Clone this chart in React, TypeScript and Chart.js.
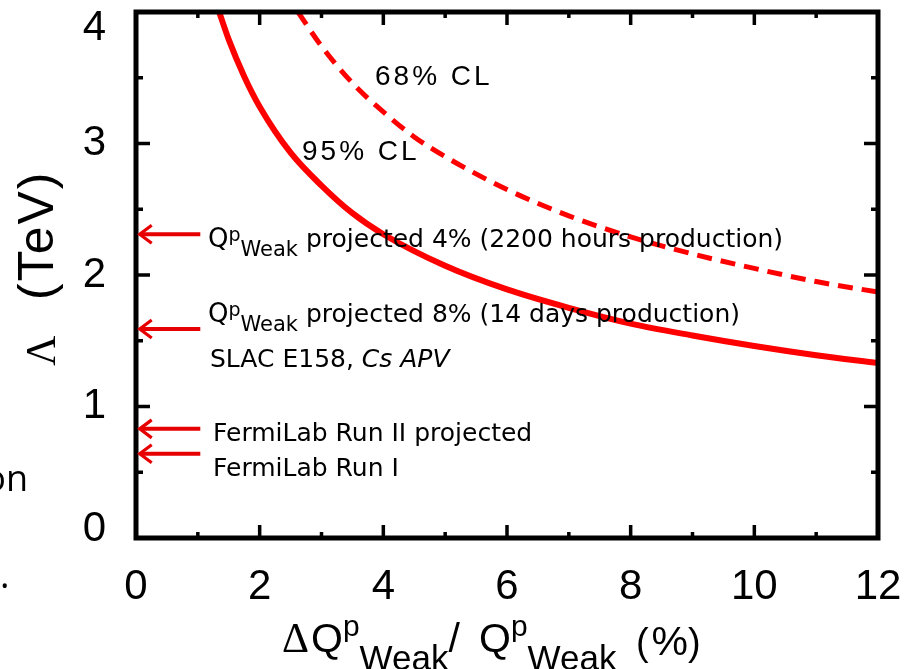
import React, { useEffect, useRef } from 'react';
import { Chart, registerables } from 'chart.js';

Chart.register(...registerables);

// ---- data ----
const solidX = [1.345, 1.5, 1.75, 2, 2.5, 3, 3.5, 4, 5, 6, 7, 8, 9, 10, 11, 12];
const solidY = [4.0, 3.79, 3.51, 3.28, 2.93, 2.68, 2.47, 2.31, 2.07, 1.89, 1.75, 1.63, 1.54, 1.46, 1.39, 1.33];
const dashedX = [2.62, 3, 3.5, 4, 4.5, 5, 6, 7, 8, 9, 10, 11, 12];
const dashedY = [4.0, 3.74, 3.46, 3.24, 3.05, 2.9, 2.65, 2.45, 2.29, 2.16, 2.05, 1.95, 1.87];
const xRange = [0, 12];
const yRange = [0, 4];
const xStep = 2;
const yStep = 1;
const arrowLevels = [2.31, 1.59, 0.83, 0.64];
const curveLabels = ['68% CL', '95% CL'];
const noteTexts = [
  'projected 4% (2200 hours production)',
  'projected 8% (14 days production)',
  'SLAC E158, ',
  'Cs APV',
  'FermiLab Run II projected',
  'FermiLab Run I',
];

const SANS = '"Liberation Sans", Arial, sans-serif';
const NOTE = '"Comic Sans MS", "DejaVu Sans", sans-serif';
const RED = '#ff0000';
const ARROW_RED = '#e60000';

type Part = { t: string; font: string; dy?: number };
function drawRich(ctx: CanvasRenderingContext2D, x: number, y: number, parts: Part[]) {
  let cx = x;
  for (const p of parts) {
    ctx.font = p.font;
    ctx.fillText(p.t, cx, y + (p.dy || 0));
    cx += ctx.measureText(p.t).width;
  }
  return cx;
}

const framePlugin = {
  id: 'frame',
  afterDraw(chart: any) {
    const ctx: CanvasRenderingContext2D = chart.ctx;
    const { left, right, top, bottom } = chart.chartArea;
    const xs = chart.scales.x;
    const ys = chart.scales.y;
    ctx.save();
    ctx.strokeStyle = '#000';
    ctx.lineWidth = 3.5;
    for (let v = xRange[0]; v <= xRange[1]; v += xStep / 2) {
      const px = xs.getPixelForValue(v);
      const major = Math.abs(v % xStep) < 1e-9;
      const len = major ? 13 : 6;
      ctx.beginPath();
      ctx.moveTo(px, bottom);
      ctx.lineTo(px, bottom - len);
      ctx.moveTo(px, top);
      ctx.lineTo(px, top + len);
      ctx.stroke();
    }
    for (let v = yRange[0]; v <= yRange[1] + 1e-9; v += yStep / 2) {
      const py = ys.getPixelForValue(v);
      const major = Math.abs(v % yStep) < 1e-9;
      const len = major ? 14 : 7;
      ctx.beginPath();
      ctx.moveTo(left, py);
      ctx.lineTo(left + len, py);
      ctx.moveTo(right, py);
      ctx.lineTo(right - len, py);
      ctx.stroke();
    }
    ctx.lineWidth = 5;
    ctx.beginPath();
    ctx.rect(left, top, right - left, bottom - top);
    ctx.stroke();
    ctx.restore();
  },
};

const notesPlugin = {
  id: 'notes',
  afterDraw(chart: any) {
    const ctx: CanvasRenderingContext2D = chart.ctx;
    const xs = chart.scales.x;
    const ys = chart.scales.y;
    ctx.save();
    ctx.strokeStyle = ARROW_RED;
    ctx.lineCap = 'butt';
    ctx.lineJoin = 'miter';
    for (const lv of arrowLevels) {
      const py = ys.getPixelForValue(lv);
      const tip = xs.getPixelForValue(0.06);
      const tail = xs.getPixelForValue(1.04);
      ctx.lineWidth = 4;
      ctx.beginPath();
      ctx.moveTo(tail, py);
      ctx.lineTo(tip + 2, py);
      ctx.stroke();
      ctx.lineWidth = 3.2;
      ctx.beginPath();
      ctx.moveTo(tip + 12, py - 9);
      ctx.lineTo(tip, py);
      ctx.lineTo(tip + 12, py + 9);
      ctx.stroke();
    }
    ctx.fillStyle = '#000';
    ctx.textBaseline = 'alphabetic';
    ctx.textAlign = 'left';
    const base = `25px ${NOTE}`;
    const qParts = (rest: string): Part[] => [
      { t: 'Q', font: `26px ${NOTE}` },
      { t: 'p', font: `19px ${NOTE}`, dy: -6 },
      { t: 'Weak', font: `21px ${NOTE}`, dy: 9 },
      { t: ' ' + rest, font: base },
    ];
    drawRich(ctx, 208, 247, qParts(noteTexts[0]));
    drawRich(ctx, 208, 322, qParts(noteTexts[1]));
    drawRich(ctx, 210, 367, [
      { t: noteTexts[2], font: base },
      { t: noteTexts[3], font: `italic 25px ${NOTE}` },
    ]);
    ctx.font = base;
    ctx.fillText(noteTexts[4], 213, 441);
    ctx.fillText(noteTexts[5], 213, 476);

    ctx.font = `28px ${SANS}`;
    (ctx as any).letterSpacing = '3px';
    ctx.fillText(curveLabels[0], 375, 85);
    ctx.fillText(curveLabels[1], 302, 160);
    (ctx as any).letterSpacing = '0px';

    ctx.save();
    ctx.translate(55, 366);
    ctx.rotate(-Math.PI / 2);
    ctx.font = `42px "Liberation Serif", serif`;
    ctx.fillText('\u039B', 0, 0);
    ctx.font = `50px ${SANS}`;
    (ctx as any).letterSpacing = '2px';
    ctx.fillText('(TeV)', 66, -2);
    (ctx as any).letterSpacing = '0px';
    ctx.restore();

    ctx.font = `42px "Liberation Serif", serif`;
    ctx.fillText('\u0394', 282, 652);
    const big = `41px ${SANS}`;
    const sup = `30px ${SANS}`;
    const sub = `35px ${SANS}`;
    drawRich(ctx, 311, 652, [
      { t: 'Q', font: big },
      { t: 'p', font: sup, dy: -16 },
      { t: 'Weak', font: sub, dy: 18 },
      { t: '/', font: big },
    ]);
    drawRich(ctx, 479, 652, [
      { t: 'Q', font: big },
      { t: 'p', font: sup, dy: -16 },
      { t: 'Weak', font: sub, dy: 18 },
    ]);
    drawRich(ctx, 636, 655, [
      { t: '(', font: `38px ${SANS}` },
      { t: ' ', font: `10px ${SANS}` },
      { t: '%', font: big },
      { t: ')', font: `38px ${SANS}` },
    ]);

    ctx.font = `36px "Open Sans", sans-serif`;
    ctx.textAlign = 'right';
    ctx.fillText('on', 28, 491);
    ctx.textAlign = 'left';
    ctx.fillText('.', 0, 588);
    ctx.restore();
  },
};

const zeroPad = (s: any) => {
  s.paddingTop = 0;
  s.paddingBottom = 0;
  s.paddingLeft = 0;
  s.paddingRight = 0;
};

export default function App() {
  const ref = useRef<HTMLCanvasElement | null>(null);
  useEffect(() => {
    const canvas = ref.current;
    if (!canvas) return;
    const chart = new Chart(canvas, {
      type: 'line',
      data: {
        datasets: [
          {
            label: '95% CL',
            data: solidX.map((x, i) => ({ x, y: solidY[i] })),
            borderColor: RED,
            borderWidth: 6,
            pointRadius: 0,
            cubicInterpolationMode: 'monotone',
            fill: false,
          },
          {
            label: '68% CL',
            data: dashedX.map((x, i) => ({ x, y: dashedY[i] })),
            borderColor: RED,
            borderWidth: 5,
            borderDash: [15, 9],
            pointRadius: 0,
            cubicInterpolationMode: 'monotone',
            fill: false,
          },
        ],
      },
      options: {
        responsive: false,
        animation: false,
        devicePixelRatio: 1,
        layout: { padding: { top: 12, right: 29, left: 0, bottom: 0 } },
        scales: {
          x: {
            type: 'linear',
            min: xRange[0],
            max: xRange[1],
            grid: { display: false, drawTicks: false },
            border: { display: false },
            ticks: {
              stepSize: xStep,
              color: '#000',
              padding: 24,
              font: { family: SANS, size: 42 },
              maxRotation: 0,
            },
            afterFit: (s: any) => {
              s.height = 131;
              zeroPad(s);
            },
          },
          y: {
            type: 'linear',
            min: yRange[0],
            max: yRange[1],
            grid: { display: false, drawTicks: false },
            border: { display: false },
            ticks: {
              stepSize: yStep,
              color: '#000',
              padding: 30,
              callback: (v: any) =>
                v === yRange[1] ? ['', String(v)] : v === yRange[0] ? [String(v), ''] : String(v),
              font: (c: any) => {
                const v = c.tick ? c.tick.value : null;
                const lh = v === yRange[1] ? '32px' : v === yRange[0] ? '18px' : 1.2;
                return { family: SANS, size: 42, lineHeight: lh };
              },
            },
            afterFit: (s: any) => {
              s.width = 136;
              zeroPad(s);
            },
          },
        },
        plugins: {
          legend: { display: false },
          tooltip: { enabled: false },
        },
      } as any,
      plugins: [framePlugin, notesPlugin],
    });
    return () => chart.destroy();
  }, []);
  return (
    <div style={{ position: 'absolute', left: 0, top: 0, width: 907, height: 669, background: '#fff' }}>
      <canvas ref={ref} width={907} height={669} style={{ width: 907, height: 669 }} />
    </div>
  );
}
